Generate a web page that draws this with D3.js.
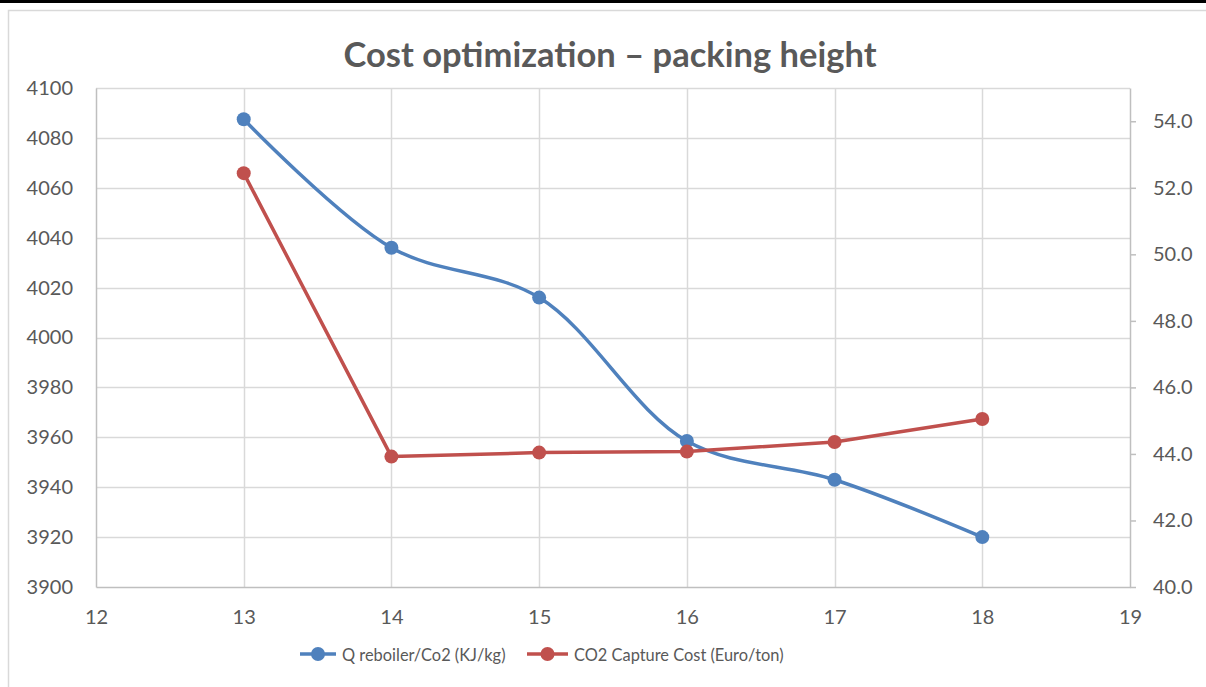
<!DOCTYPE html>
<html>
<head>
<meta charset="utf-8">
<script src="https://cdn.jsdelivr.net/npm/d3@7"></script>
<style>
  html, body { margin: 0; padding: 0; background: #fff; }
  svg { display: block; }
  text { font-family: Lato, "Open Sans", sans-serif; fill: #595959; }
</style>
</head>
<body>
<svg id="chart" width="1206" height="687"></svg>
<script>
// Packing height (m)
const heights = [13, 14, 15, 16, 17, 18];
// Reboiler duty per kg CO2 (KJ/kg)
const qReboiler = [4087.5, 4036, 4016, 3958.5, 3943, 3920];
// CO2 capture cost (Euro/ton)
const captureCost = [52.44, 43.92, 44.04, 44.07, 44.36, 45.05];

const xTicks = [12, 13, 14, 15, 16, 17, 18, 19];
const leftTicks = [3900, 3920, 3940, 3960, 3980, 4000, 4020, 4040, 4060, 4080, 4100];
const rightTicks = [40, 42, 44, 46, 48, 50, 52, 54];

const title = "Cost optimization \u2013 packing height";
const seriesNames = ["Q reboiler/Co2 (KJ/kg)", "CO2 Capture Cost (Euro/ton)"];

const svg = d3.select("#chart");
const W = 1206, H = 687;
const plot = { left: 96, right: 1130, top: 88, bottom: 587 };

const blue = "#4F81BD", red = "#C0504D";
const gridColor = "#d9d9d9", axisColor = "#bfbfbf";
const fontStack = "Lato, 'Open Sans', sans-serif";

// frame
svg.append("rect").attr("x", 0).attr("y", 0).attr("width", W).attr("height", 3).attr("fill", "#000");
svg.append("path").attr("d", `M8.5,${H} V10.5 H${W}`).attr("fill", "none").attr("stroke", gridColor).attr("stroke-width", 1.5);

const x = d3.scaleLinear().domain([12, 19]).range([plot.left, plot.right]);
const yL = d3.scaleLinear().domain([3900, 4100]).range([plot.bottom, plot.top]);
const yR = d3.scaleLinear().domain([40, 55]).range([plot.bottom, plot.top]);

// gridlines
const grid = svg.append("g").attr("stroke", gridColor).attr("stroke-width", 1.5);
grid.selectAll("line.h").data(leftTicks.slice(1)).join("line")
  .attr("x1", plot.left).attr("x2", plot.right)
  .attr("y1", d => Math.round(yL(d)) + 0.5).attr("y2", d => Math.round(yL(d)) + 0.5);
grid.selectAll("line.v").data(xTicks.slice(1, -1)).join("line")
  .attr("y1", plot.top).attr("y2", plot.bottom)
  .attr("x1", d => Math.round(x(d)) + 0.5).attr("x2", d => Math.round(x(d)) + 0.5);

function styleTicks(g) {
  g.selectAll("text").attr("font-size", 20).attr("fill", "#595959").style("font-family", fontStack);
}

// left axis
const gL = svg.append("g").attr("transform", `translate(${plot.left},0)`)
  .call(d3.axisLeft(yL).tickValues(leftTicks).tickSize(0).tickPadding(23).tickFormat(d3.format("d")));
gL.select(".domain").attr("stroke", axisColor).attr("stroke-width", 1.5);
styleTicks(gL);

// right axis
const gR = svg.append("g").attr("transform", `translate(${plot.right},0)`)
  .call(d3.axisRight(yR).tickValues(rightTicks).tickSize(6).tickPadding(17).tickFormat(d3.format(".1f")).tickSizeOuter(0));
gR.select(".domain").attr("stroke", axisColor).attr("stroke-width", 1.5);
gR.selectAll(".tick line").attr("stroke", axisColor).attr("stroke-width", 1.5);
styleTicks(gR);

// bottom axis
const gB = svg.append("g").attr("transform", `translate(0,${plot.bottom})`)
  .call(d3.axisBottom(x).tickValues(xTicks).tickSize(0).tickPadding(23).tickFormat(d3.format("d")));
gB.select(".domain").attr("stroke", axisColor).attr("stroke-width", 1.5);
styleTicks(gB);

// title
svg.append("text").attr("x", 610).attr("y", 67).attr("text-anchor", "middle")
  .attr("font-size", 34.5).attr("font-weight", "bold").attr("fill", "#595959").text(title);

// series
const lineQ = d3.line().x((d, i) => x(heights[i])).y(d => yL(d)).curve(d3.curveCatmullRom.alpha(0.5));
const lineC = d3.line().x((d, i) => x(heights[i])).y(d => yR(d));

svg.append("path").datum(qReboiler).attr("d", lineQ).attr("fill", "none")
  .attr("stroke", blue).attr("stroke-width", 3.5).attr("stroke-linejoin", "round");
svg.append("path").datum(captureCost).attr("d", lineC).attr("fill", "none")
  .attr("stroke", red).attr("stroke-width", 3.5).attr("stroke-linejoin", "round");

svg.append("g").selectAll("circle").data(qReboiler).join("circle")
  .attr("cx", (d, i) => x(heights[i])).attr("cy", d => yL(d)).attr("r", 7).attr("fill", blue);
svg.append("g").selectAll("circle").data(captureCost).join("circle")
  .attr("cx", (d, i) => x(heights[i])).attr("cy", d => yR(d)).attr("r", 7).attr("fill", red);

// legend
const legend = [
  { name: seriesNames[0], color: blue, x: 300, w: 36 },
  { name: seriesNames[1], color: red, x: 527, w: 41 }
];
const lg = svg.append("g").attr("transform", "translate(0,654)");
legend.forEach(l => {
  lg.append("line").attr("x1", l.x).attr("x2", l.x + l.w).attr("y1", 0).attr("y2", 0)
    .attr("stroke", l.color).attr("stroke-width", 3.5);
  lg.append("circle").attr("cx", l.x + l.w / 2).attr("cy", 0).attr("r", 7).attr("fill", l.color);
  lg.append("text").attr("x", l.x + l.w + 6).attr("y", 6.5).attr("font-size", 16.4).text(l.name);
});
</script>
</body>
</html>
